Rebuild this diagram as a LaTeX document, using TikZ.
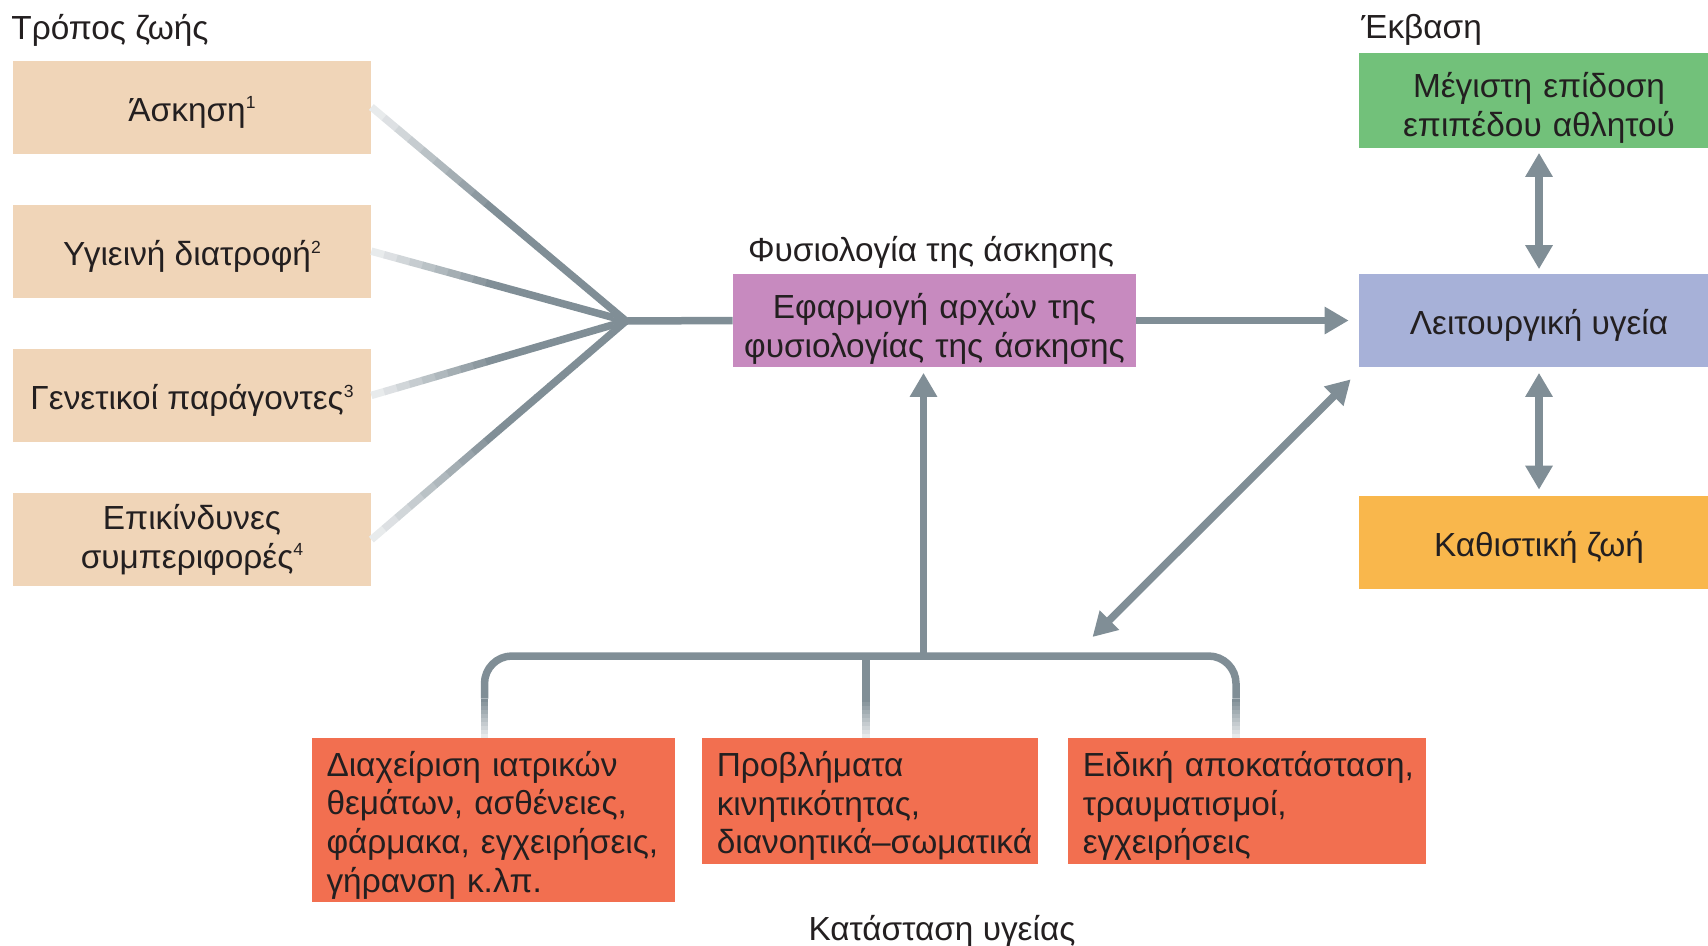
\documentclass[tikz,border=0pt]{standalone}
\usepackage{fontspec}
\setmainfont{Liberation Sans}
\usepackage{xcolor}
\definecolor{tanbox}{RGB}{240,213,184}
\definecolor{physbox}{RGB}{199,138,191}
\definecolor{healthbox}{RGB}{167,177,216}
\definecolor{peakbox}{RGB}{114,193,122}
\definecolor{sedbox}{RGB}{249,183,76}
\definecolor{condbox}{RGB}{242,111,80}
\definecolor{linegray}{RGB}{128,142,150}
\definecolor{textdark}{RGB}{35,31,32}
\usetikzlibrary{arrows.meta,positioning,calc}
\newcommand{\sups}[1]{\raisebox{7pt}{\fontsize{10}{10}\selectfont #1}}

\begin{document}
\begin{tikzpicture}[
    font=\fontsize{19}{22}\selectfont, text=textdark,
    boxtext/.style={execute at begin node={\rule{0pt}{#1}}},
    boxtext/.default=20pt,
    life/.style={rectangle, fill=tanbox, boxtext,
                 minimum width=7.16cm, minimum height=1.86cm,
                 align=center, inner sep=0pt},
    outc/.style={rectangle, boxtext, minimum width=7.2cm, minimum height=1.86cm,
                 align=center, inner sep=0pt},
    cond/.style={rectangle, fill=condbox, anchor=north, boxtext,
                 align=left, inner xsep=0.3cm, inner ysep=0pt},
    head/.style={inner sep=0pt},
    conn/.style={draw=linegray, line width=0.15cm},
    arr/.style={conn, -{Triangle[length=0.48cm,width=0.52cm]}},
    darr/.style={conn, {Triangle[length=0.48cm,width=0.52cm]}-{Triangle[length=0.48cm,width=0.52cm]}},
  ]
  \useasboundingbox (0,0) rectangle (34.16,-18.9);

  %% COLUMN 1 -- lifestyle
  \node[head, anchor=west] (lifehd) at (0.22,-0.6) {Τρόπος ζωής};
  \node[life] (exer) at (3.84,-2.14) {Άσκηση\sups{1}};
  \node[life, below=1.01cm of exer] (diet) {Υγιεινή διατροφή\sups{2}};
  \node[life, below=1.01cm of diet] (gene) {Γενετικοί παράγοντες\sups{3}};
  \node[life, below=1.01cm of gene] (risk) {Επικίνδυνες\\συμπεριφορές\sups{4}};
  \coordinate (merge) at (12.52,-6.42);

  %% CENTRE -- exercise physiology
  \node[life, fill=physbox, text width=8.06cm, boxtext=24pt] (phys) at (18.69,-6.41)
    {Εφαρμογή αρχών της\\φυσιολογίας της άσκησης};
  \node[head] (physhd) at (18.62,-5.04) {Φυσιολογία της άσκησης};

  %% COLUMN 3 -- outcome
  \node[head, anchor=west] (outhd) at (27.22,-0.6) {Έκβαση};
  \node[outc, fill=peakbox, minimum height=1.9cm, text width=7.2cm, boxtext=22.5pt]
    (peak) at (30.78,-2.01) {Μέγιστη επίδοση\\επιπέδου αθλητού};
  \node[outc, fill=healthbox] (func) at (30.78,-6.41) {Λειτουργική υγεία};
  \node[outc, fill=sedbox] (sed) at (30.78,-10.84) {Καθιστική ζωή};

  %% BOTTOM ROW -- health state
  \node[cond, text width=6.66cm, minimum height=3.29cm] (medic) at (9.86,-14.75)
    {Διαχείριση ιατρικών\\θεμάτων, ασθένειες,\\\mbox{φάρμακα, εγχειρήσεις,}\\γήρανση κ.λπ.};
  \node[cond, text width=6.13cm, minimum height=2.53cm] (mobil) at (17.40,-14.75)
    {Προβλήματα\\κινητικότητας,\\\mbox{διανοητικά–σωματικά}};
  \node[cond, text width=6.57cm, minimum height=2.53cm] (rehab) at (24.94,-14.75)
    {\mbox{Ειδική αποκατάσταση,}\\τραυματισμοί,\\εγχειρήσεις};
  \node[head] (statehd) at (18.84,-18.63) {Κατάσταση υγείας};

  %% fading feeders into the merge point
  \foreach \src in {exer,diet,gene,risk}{
    \foreach \i in {0,...,19}{
      \pgfmathtruncatemacro{\pct}{min(100,18+\i*9)}
      \pgfmathsetmacro{\tcur}{\i/20}
      \pgfmathsetmacro{\tnext}{(\i+1.03)/20}
      \draw[conn, draw=linegray!\pct!white]
        ($(\src.east)!\tcur!(merge)$) -- ($(\src.east)!\tnext!(merge)$);
    }
  }
  \draw[conn] (merge) -- (phys.west);
  \draw[arr, shorten >=0.2cm] (phys.east) -- (func.west);

  \draw[darr, shorten <=0.09cm, shorten >=0.09cm] (peak.south) -- (func.north);
  \draw[darr, shorten <=0.11cm, shorten >=0.11cm] (func.south) -- (sed.north);

  \coordinate (dlow) at (21.85,-12.74);
  \draw[darr] ($(func.south west)+(-0.16,-0.24)$) -- (dlow);

  %% bracket over the health state boxes
  \coordinate (brL) at (9.69,-13.12);
  \coordinate (brM) at (17.32,-13.12);
  \coordinate (brR) at (24.72,-13.12);
  \coordinate (stem) at (18.47,-13.12);
  \draw[conn, rounded corners=0.55cm] ($(brL)+(0,-0.85)$) |- (brR) -- ($(brR)+(0,-0.85)$);
  \draw[conn] (brM) -- ++(0,-0.85);
  \foreach \x in {brL,brM,brR}{
    \foreach \i in {0,...,9}{
      \pgfmathtruncatemacro{\pct}{100-\i*9}
      \draw[conn, draw=linegray!\pct!white]
        ($(\x)+(0,{-0.85-\i*0.078})$) -- ++(0,-0.082);
    }
  }
  \draw[arr, shorten >=0.11cm] (stem) -- (stem |- phys.south);

\end{tikzpicture}
\end{document}
